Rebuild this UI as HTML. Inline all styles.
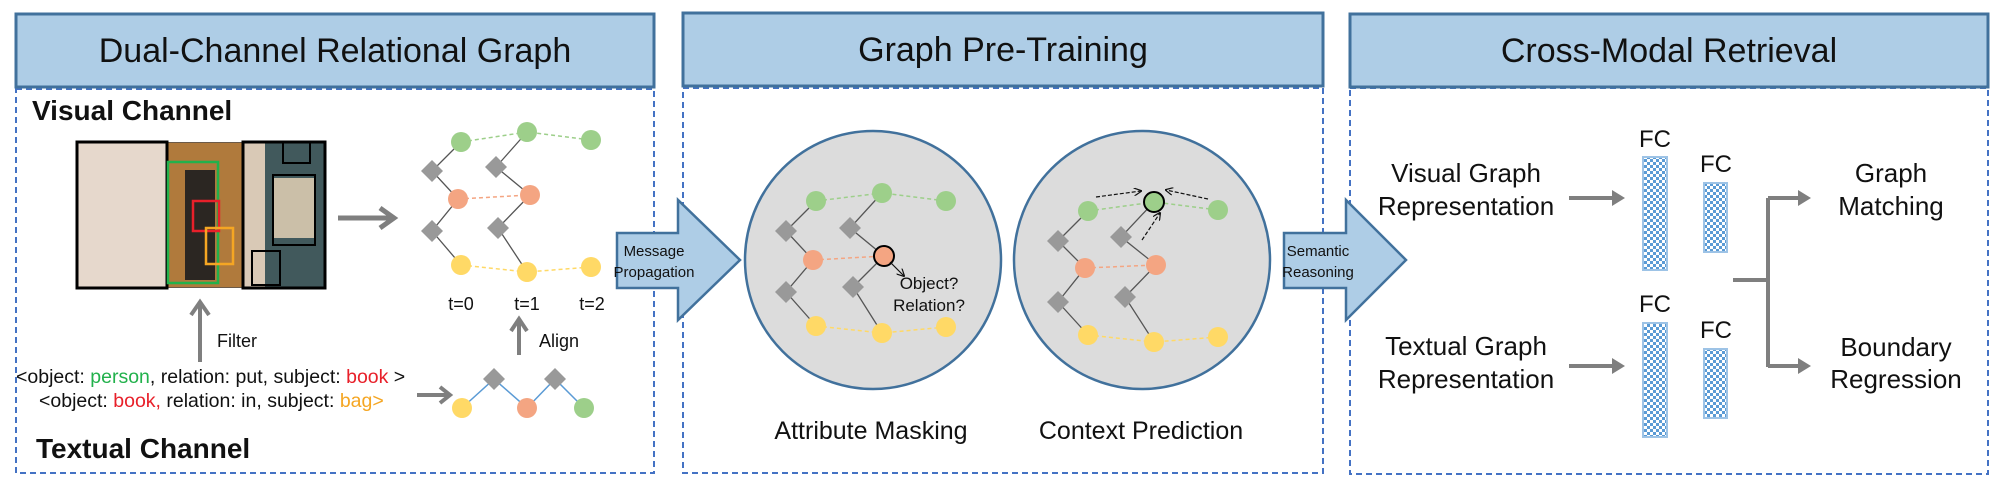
<!DOCTYPE html>
<html><head><meta charset="utf-8"><style>
html,body{margin:0;padding:0;background:#fff;}
svg{display:block;}
text{font-family:"Liberation Sans Narrow","Liberation Sans",sans-serif;fill:#111;}
</style></head><body>
<svg width="2005" height="486" viewBox="0 0 2005 486" xmlns="http://www.w3.org/2000/svg">
<defs>
<pattern id="chk" width="6" height="6" patternUnits="userSpaceOnUse">
<rect width="6" height="6" fill="#5b9bd5"/><rect width="3" height="3" fill="#fff"/><rect x="3" y="3" width="3" height="3" fill="#fff"/>
</pattern>
<marker id="ah" markerWidth="8" markerHeight="8" refX="7" refY="4" orient="auto" markerUnits="userSpaceOnUse"><path d="M0,0 L8,4 L0,8" fill="none" stroke="#111" stroke-width="1.2"/></marker>
</defs>

<!-- Panel 1 -->
<g>
<rect x="16" y="89" width="638" height="384" fill="none" stroke="#4472c4" stroke-width="2" stroke-dasharray="6,4"/>
<rect x="16" y="14" width="638" height="73" fill="#aecde6" stroke="#41719c" stroke-width="3"/>
<text x="335" y="62" font-size="34" text-anchor="middle">Dual-Channel Relational Graph</text>
<text x="32" y="120" font-size="28" font-weight="bold">Visual Channel</text>
<g>
<rect x="77" y="142" width="248" height="146" fill="#6b5a48"/>
<rect x="78" y="143" width="88" height="144" fill="#e6d8cc"/>
<rect x="167" y="143" width="76" height="144" fill="#b07a3c"/>
<rect x="185" y="170" width="30" height="110" fill="#2b2622"/>
<rect x="243" y="143" width="22" height="144" fill="#d9c9b6"/>
<rect x="265" y="143" width="60" height="144" fill="#41595c"/>
<rect x="274" y="178" width="40" height="60" fill="#cbbfa8"/>
<rect x="77" y="142" width="90" height="146" fill="none" stroke="#000" stroke-width="3"/>
<rect x="243" y="142" width="82" height="146" fill="none" stroke="#000" stroke-width="3"/>
<rect x="283" y="142" width="27" height="21" fill="none" stroke="#000" stroke-width="2"/>
<rect x="273" y="175" width="42" height="70" fill="none" stroke="#000" stroke-width="2"/>
<rect x="252" y="251" width="28" height="34" fill="none" stroke="#000" stroke-width="2"/>
<rect x="168" y="162" width="50" height="121" fill="none" stroke="#22b14c" stroke-width="2.5"/>
<rect x="193" y="201" width="26" height="30" fill="none" stroke="#e8202a" stroke-width="2.5"/>
<rect x="206" y="228" width="27" height="36" fill="none" stroke="#f5a623" stroke-width="2.5"/>
</g>
<path d="M338,218 L394,218 M380,208 L394,218 L380,228" fill="none" stroke="#7f7f7f" stroke-width="5"/>
<g>
<g stroke="#555" stroke-width="1.3" fill="none"><path d="M461,142 L432,171 L458,199 L432,231 L461,265"/><path d="M527,132 L496,167 L530,195 L498,228 L527,272"/></g>
<g stroke-dasharray="4,3" stroke-width="1.5" fill="none"><path d="M461,142 L527,132 L591,140" stroke="#9dcf8a"/><path d="M458,199 L530,195" stroke="#f4a582"/><path d="M461,265 L527,272 L591,267" stroke="#ffd966"/></g>
<g fill="#999"><path d="M432,160 l11,11 l-11,11 l-11,-11z"/><path d="M496,156 l11,11 l-11,11 l-11,-11z"/><path d="M432,220 l11,11 l-11,11 l-11,-11z"/><path d="M498,217 l11,11 l-11,11 l-11,-11z"/></g>
<g fill="#9dcf8a"><circle cx="461" cy="142" r="10"/><circle cx="527" cy="132" r="10"/><circle cx="591" cy="140" r="10"/></g>
<g fill="#f4a582"><circle cx="458" cy="199" r="10"/><circle cx="530" cy="195" r="10"/></g>
<g fill="#ffd966"><circle cx="461" cy="265" r="10"/><circle cx="527" cy="272" r="10"/><circle cx="591" cy="267" r="10"/></g>
</g>
<g font-size="18" text-anchor="middle"><text x="461" y="310">t=0</text><text x="527" y="310">t=1</text><text x="592" y="310">t=2</text></g>
<path d="M200,362 L200,302 M191,315 L200,302 L209,315" fill="none" stroke="#7f7f7f" stroke-width="4"/>
<text x="217" y="347" font-size="18">Filter</text>
<path d="M519,355 L519,319 M511,331 L519,319 L527,331" fill="none" stroke="#7f7f7f" stroke-width="4"/>
<text x="539" y="347" font-size="18">Align</text>
<text x="16" y="383" font-size="19.5">&lt;object: <tspan fill="#22b14c">person</tspan>, relation: put, subject: <tspan fill="#e8202a">book</tspan> &gt;</text>
<text x="39" y="407" font-size="19.5">&lt;object: <tspan fill="#e8202a">book,</tspan> relation: in, subject: <tspan fill="#f5a623">bag&gt;</tspan></text>
<path d="M417,395 L450,395 M440,387 L450,395 L440,403" fill="none" stroke="#7f7f7f" stroke-width="4"/>
<g>
<path d="M462,408 L494,379 L527,408 L555,379 L584,408" fill="none" stroke="#5b9bd5" stroke-width="1.5"/>
<g fill="#999"><path d="M494,368 l11,11 l-11,11 l-11,-11z"/><path d="M555,368 l11,11 l-11,11 l-11,-11z"/></g>
<circle cx="462" cy="408" r="10" fill="#ffd966"/><circle cx="527" cy="408" r="10" fill="#f4a582"/><circle cx="584" cy="408" r="10" fill="#9dcf8a"/>
</g>
<text x="36" y="458" font-size="28" font-weight="bold">Textual Channel</text>
</g>

<!-- Panel 2 -->
<g>
<rect x="683" y="88" width="640" height="385" fill="none" stroke="#4472c4" stroke-width="2" stroke-dasharray="6,4"/>
<rect x="683" y="13" width="640" height="73" fill="#aecde6" stroke="#41719c" stroke-width="3"/>
<text x="1003" y="61" font-size="34" text-anchor="middle">Graph Pre-Training</text>
<ellipse cx="873" cy="260" rx="128" ry="129" fill="#dcdcdc" stroke="#41719c" stroke-width="2.5"/>
<ellipse cx="1142" cy="260" rx="128" ry="129" fill="#dcdcdc" stroke="#41719c" stroke-width="2.5"/>
<g>
<g stroke="#555" stroke-width="1.3" fill="none"><path d="M816,201 L786,231 L813,260 L786,292 L816,326"/><path d="M882,193 L850,228 L884,256 L853,287 L882,333"/></g>
<g stroke-dasharray="4,3" stroke-width="1.5" fill="none"><path d="M816,201 L882,193 L946,201" stroke="#9dcf8a"/><path d="M813,260 L884,256" stroke="#f4a582"/><path d="M816,326 L882,333 L946,327" stroke="#ffd966"/></g>
<g fill="#999"><path d="M786,220 l11,11 l-11,11 l-11,-11z"/><path d="M850,217 l11,11 l-11,11 l-11,-11z"/><path d="M786,281 l11,11 l-11,11 l-11,-11z"/><path d="M853,276 l11,11 l-11,11 l-11,-11z"/></g>
<g fill="#9dcf8a"><circle cx="816" cy="201" r="10"/><circle cx="882" cy="193" r="10"/><circle cx="946" cy="201" r="10"/></g>
<circle cx="813" cy="260" r="10" fill="#f4a582"/><circle cx="884" cy="256" r="10" fill="#f4a582" stroke="#000" stroke-width="2"/>
<g fill="#ffd966"><circle cx="816" cy="326" r="10"/><circle cx="882" cy="333" r="10"/><circle cx="946" cy="327" r="10"/></g>
<path d="M890,262 L904,276" stroke="#111" stroke-width="1.2" marker-end="url(#ah)"/>
</g>
<text x="929" y="289" font-size="17" text-anchor="middle">Object?</text>
<text x="929" y="311" font-size="17" text-anchor="middle">Relation?</text>
<g>
<g stroke="#555" stroke-width="1.3" fill="none"><path d="M1088,211 L1058,241 L1085,268 L1058,302 L1088,335"/><path d="M1154,202 L1121,237 L1156,265 L1125,297 L1154,342"/></g>
<g stroke-dasharray="4,3" stroke-width="1.5" fill="none"><path d="M1088,211 L1154,202 L1218,210" stroke="#9dcf8a"/><path d="M1085,268 L1156,265" stroke="#f4a582"/><path d="M1088,335 L1154,342 L1218,337" stroke="#ffd966"/></g>
<g fill="#999"><path d="M1058,230 l11,11 l-11,11 l-11,-11z"/><path d="M1121,226 l11,11 l-11,11 l-11,-11z"/><path d="M1058,291 l11,11 l-11,11 l-11,-11z"/><path d="M1125,286 l11,11 l-11,11 l-11,-11z"/></g>
<g fill="#9dcf8a"><circle cx="1088" cy="211" r="10"/><circle cx="1218" cy="210" r="10"/></g>
<circle cx="1154" cy="202" r="10" fill="#9dcf8a" stroke="#000" stroke-width="2"/>
<g fill="#f4a582"><circle cx="1085" cy="268" r="10"/><circle cx="1156" cy="265" r="10"/></g>
<g fill="#ffd966"><circle cx="1088" cy="335" r="10"/><circle cx="1154" cy="342" r="10"/><circle cx="1218" cy="337" r="10"/></g>
<g stroke="#111" stroke-width="1.2" stroke-dasharray="4,2" fill="none"><path d="M1096,197 L1141,191" marker-end="url(#ah)"/><path d="M1208,199 L1166,190" marker-end="url(#ah)"/><path d="M1142,240 L1160,213" marker-end="url(#ah)"/></g>
</g>
<text x="871" y="439" font-size="25" text-anchor="middle">Attribute Masking</text>
<text x="1141" y="439" font-size="25" text-anchor="middle">Context Prediction</text>
</g>

<!-- Panel 3 -->
<g>
<rect x="1350" y="88" width="638" height="386" fill="none" stroke="#4472c4" stroke-width="2" stroke-dasharray="6,4"/>
<rect x="1350" y="14" width="638" height="73" fill="#aecde6" stroke="#41719c" stroke-width="3"/>
<text x="1669" y="62" font-size="34" text-anchor="middle">Cross-Modal Retrieval</text>
<g font-size="26" text-anchor="middle">
<text x="1466" y="182">Visual Graph</text>
<text x="1466" y="215">Representation</text>
<text x="1466" y="355">Textual Graph</text>
<text x="1466" y="388">Representation</text>
<text x="1891" y="182">Graph</text>
<text x="1891" y="215">Matching</text>
<text x="1896" y="356">Boundary</text>
<text x="1896" y="388">Regression</text>
</g>
<g fill="#7f7f7f" stroke="#7f7f7f">
<path d="M1569,198 L1614,198" stroke-width="4"/><path d="M1612,190 L1625,198 L1612,206z" stroke="none"/>
<path d="M1569,366 L1614,366" stroke-width="4"/><path d="M1612,358 L1625,366 L1612,374z" stroke="none"/>
<path d="M1733,280 L1768,280 M1768,198 L1768,367 M1768,198 L1800,198 M1768,366 L1800,366" stroke-width="4" fill="none"/>
<path d="M1798,190 L1811,198 L1798,206z" stroke="none"/><path d="M1798,358 L1811,366 L1798,374z" stroke="none"/>
</g>
<g stroke="#9dc3e6" stroke-width="2" fill="url(#chk)">
<rect x="1643" y="157" width="24" height="113"/>
<rect x="1704" y="183" width="23" height="69"/>
<rect x="1643" y="323" width="24" height="114"/>
<rect x="1704" y="349" width="23" height="69"/>
</g>
<g font-size="24" text-anchor="middle">
<text x="1655" y="147">FC</text>
<text x="1716" y="172">FC</text>
<text x="1655" y="312">FC</text>
<text x="1716" y="338">FC</text>
</g>
</g>

<!-- Block arrows -->
<g>
<path d="M617,233 L678,233 L678,200 L740,260 L678,320 L678,288 L617,288z" fill="#aecde6" stroke="#41719c" stroke-width="2.5"/>
<text x="654" y="256" font-size="15" text-anchor="middle">Message</text>
<text x="654" y="277" font-size="15" text-anchor="middle">Propagation</text>
</g>
<g>
<path d="M1284,233 L1346,233 L1346,200 L1406,260 L1346,320 L1346,288 L1284,288z" fill="#aecde6" stroke="#41719c" stroke-width="2.5"/>
<text x="1318" y="256" font-size="15" text-anchor="middle">Semantic</text>
<text x="1318" y="277" font-size="15" text-anchor="middle">Reasoning</text>
</g>
</svg>
</body></html>
